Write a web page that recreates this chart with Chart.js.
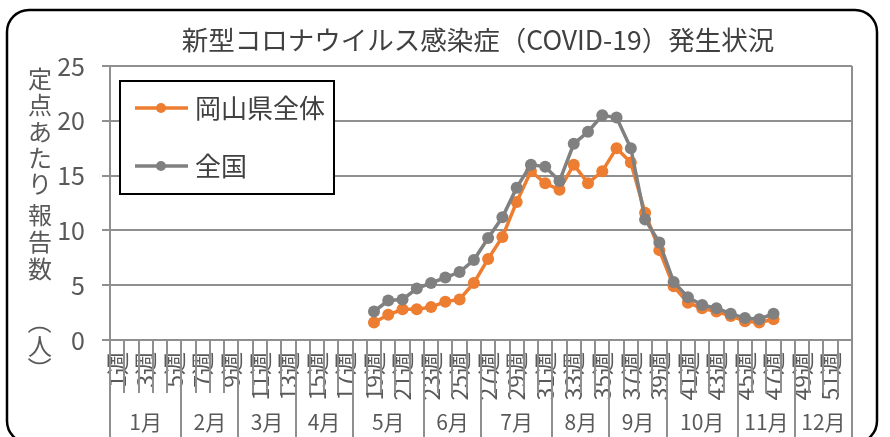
<!DOCTYPE html>
<html>
<head>
<meta charset="utf-8">
<script src="https://cdn.jsdelivr.net/npm/chart.js@4"></script>
<style>
  html, body { margin:0; padding:0; background:#fff; }
  #wrap { width:890px; height:437px; }
</style>
</head>
<body>
<div id="wrap"><canvas id="chart" width="890" height="437"></canvas></div>
<script>
// ── data ──
var chartTitle = '新型コロナウイルス感染症（COVID-19）発生状況';
var yTitleChars = ['定','点','あ','た','り','報','告','数','（','人','）'];

var weekLabels = ['1週','2週','3週','4週','5週','6週','7週','8週','9週','10週','11週','12週','13週',
  '14週','15週','16週','17週','18週','19週','20週','21週','22週','23週','24週','25週','26週',
  '27週','28週','29週','30週','31週','32週','33週','34週','35週','36週','37週','38週','39週',
  '40週','41週','42週','43週','44週','45週','46週','47週','48週','49週','50週','51週','52週'];

var months       = ['1月','2月','3月','4月','5月','6月','7月','8月','9月','10月','11月','12月'];
var monthLastWeek = [5, 9, 13, 17, 22, 26, 31, 35, 39, 44, 48, 52];

var yTicks = [0, 5, 10, 15, 20, 25];

// weeks 1..52 (null = no report)
var okayama = [null,null,null,null,null,null,null,null,null,null,null,null,null,null,null,null,null,null,
  1.6, 2.3, 2.8, 2.8, 3.0, 3.5, 3.7, 5.2, 7.4, 9.4, 12.6, 15.4, 14.3, 13.7, 16.0, 14.3, 15.4, 17.5,
  16.2, 11.6, 8.2, 4.9, 3.4, 2.9, 2.6, 2.2, 1.7, 1.6, 1.9,
  null,null,null,null,null];
var national = [null,null,null,null,null,null,null,null,null,null,null,null,null,null,null,null,null,null,
  2.6, 3.6, 3.7, 4.7, 5.2, 5.7, 6.2, 7.3, 9.3, 11.2, 13.9, 16.0, 15.8, 14.5, 17.9, 19.0, 20.5, 20.3,
  17.5, 11.0, 8.9, 5.3, 3.9, 3.2, 2.9, 2.4, 2.0, 1.9, 2.4,
  null,null,null,null,null];

var C_OKA = '#ED7D31', C_NAT = '#808080', C_GRID = '#8f8f8f', C_TXT = '#595959';
var FONT = '"Noto Sans CJK JP", "Noto Sans", sans-serif';

// ── decoration: frame, title, axis title, legend, month row ──
var decoPlugin = {
  id: 'deco',
  beforeDraw: function(chart) {
    var ctx = chart.ctx;
    ctx.save();
    ctx.fillStyle = '#fff';
    ctx.fillRect(0, 0, chart.width, chart.height);
    ctx.restore();
  },
  afterDraw: function(chart) {
    var ctx = chart.ctx, a = chart.chartArea;
    var n = weekLabels.length, w = (a.right - a.left) / n;
    ctx.save();

    // plot border (right side)
    ctx.strokeStyle = C_GRID; ctx.lineWidth = 2;
    ctx.beginPath(); ctx.moveTo(a.right, a.top); ctx.lineTo(a.right, a.bottom); ctx.stroke();

    // category separators below the axis
    ctx.lineWidth = 2;
    for (var i = 0; i <= n; i++) {
      var x = Math.round(a.left + i * w);
      var isMonth = i === 0 || monthLastWeek.indexOf(i) >= 0;
      ctx.beginPath();
      ctx.moveTo(x, a.bottom);
      ctx.lineTo(x, isMonth ? chart.height : a.bottom + 53);
      ctx.stroke();
    }

    // month labels
    ctx.fillStyle = C_TXT; ctx.font = '21px ' + FONT;
    ctx.textAlign = 'center'; ctx.textBaseline = 'middle';
    var prev = 0;
    months.forEach(function(m, k) {
      var x0 = a.left + prev * w, x1 = a.left + monthLastWeek[k] * w;
      ctx.fillText(m, (x0 + x1) / 2, 422);
      prev = monthLastWeek[k];
    });

    // title
    ctx.fillStyle = '#404040'; ctx.font = '26.5px ' + FONT;
    ctx.fillText(chartTitle, 478, 40);

    // y axis title, vertical
    ctx.fillStyle = C_TXT; ctx.font = '24px ' + FONT;
    var yy = [79, 105, 132, 158, 184, 215, 242, 269, 322, 346, 369];
    yTitleChars.forEach(function(ch, k) {
      if (ch === '（' || ch === '）') {
        ctx.save(); ctx.translate(40, yy[k]); ctx.rotate(Math.PI / 2);
        ctx.fillText(ch, 0, 0); ctx.restore();
      } else {
        ctx.fillText(ch, 40, yy[k]);
      }
    });

    // legend box
    ctx.fillStyle = '#fff'; ctx.fillRect(120, 81, 214, 113);
    ctx.strokeStyle = '#000'; ctx.lineWidth = 2; ctx.strokeRect(120, 81, 214, 113);
    var items = [[chart.data.datasets[0], 108], [chart.data.datasets[1], 166]];
    items.forEach(function(it) {
      var ds = it[0], y = it[1];
      ctx.strokeStyle = ds.borderColor; ctx.lineWidth = 3.5;
      ctx.beginPath(); ctx.moveTo(135, y); ctx.lineTo(188, y); ctx.stroke();
      ctx.fillStyle = ds.borderColor;
      ctx.beginPath(); ctx.arc(161, y, 5, 0, Math.PI * 2); ctx.fill();
      ctx.fillStyle = '#404040'; ctx.font = '26px ' + FONT; ctx.textAlign = 'left';
      ctx.fillText(ds.label, 195, y);
    });

    // outer rounded frame
    ctx.strokeStyle = '#000'; ctx.lineWidth = 2.5;
    ctx.beginPath(); ctx.roundRect(7, 10, 870, 433, 22); ctx.stroke();
    ctx.restore();
  }
};

new Chart(document.getElementById('chart').getContext('2d'), {
  type: 'line',
  data: {
    labels: weekLabels,
    datasets: [
      { label:'岡山県全体', data: okayama, borderColor: C_OKA, backgroundColor: C_OKA,
        borderWidth: 3.5, pointRadius: 6, pointBorderWidth: 0, pointBackgroundColor: C_OKA, tension: 0, order: 1 },
      { label:'全国', data: national, borderColor: C_NAT, backgroundColor: C_NAT,
        borderWidth: 3.5, pointRadius: 6, pointBorderWidth: 0, pointBackgroundColor: C_NAT, tension: 0, order: 0 }
    ]
  },
  options: {
    responsive: false, animation: false,
    layout: { padding: { top: 66, right: 38, left: 0, bottom: 0 } },
    plugins: { legend: { display: false }, tooltip: { enabled: false }, title: { display: false } },
    scales: {
      x: {
        offset: true,
        afterFit: function(s) { s.height = 97; },
        grid: { display: false },
        border: { display: true, color: C_GRID, width: 2 },
        ticks: {
          autoSkip: false, maxRotation: 90, minRotation: 90, padding: 4,
          color: C_TXT, font: { family: FONT, size: 23 },
          callback: function(v, i) { return i % 2 === 0 ? weekLabels[i] : ''; }
        }
      },
      y: {
        min: 0, max: 25,
        afterFit: function(s) { s.width = 110; },
        afterBuildTicks: function(s) { s.ticks = yTicks.map(function(v){ return { value: v }; }); },
        grid: { color: C_GRID, lineWidth: 2, tickLength: 8 },
        border: { display: true, color: C_GRID, width: 2 },
        ticks: { padding: 17, color: C_TXT, font: { family: FONT, size: 25 } }
      }
    }
  },
  plugins: [decoPlugin]
});
</script>
</body>
</html>
